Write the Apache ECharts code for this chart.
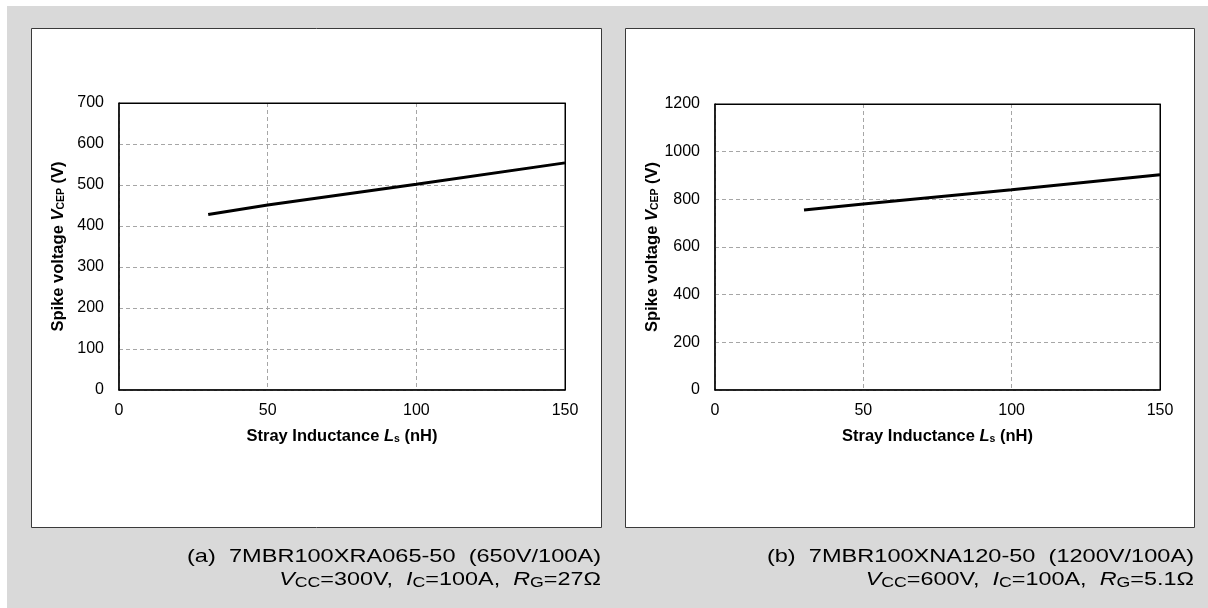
<!DOCTYPE html>
<html>
<head>
<meta charset="utf-8">
<script src="https://cdn.jsdelivr.net/npm/echarts@6/dist/echarts.min.js"></script>
<style>
html,body{margin:0;padding:0;background:#fff;}
#c{width:1208px;height:608px;}
</style>
</head>
<body>
<div id="c"></div>
<script>
// ---- data ----
const xTicksA = [0, 50, 100, 150];
const inductanceA = [30, 50, 100, 150];          // nH
const spikeA = [428, 451, 502, 554];              // V  (7MBR100XRA065-50)
const inductanceB = [30, 50, 100, 150];          // nH
const spikeB = [755, 780, 840, 903];              // V  (7MBR100XNA120-50)
const yMaxA = 700, yStepA = 100;
const yMaxB = 1200, yStepB = 200;
const xMax = 150, xStep = 50;
const captionA1 = '(a)  7MBR100XRA065-50  (650V/100A)';
const captionA2 = ['V', 'CC', '=300V,  ', 'I', 'C', '=100A,  ', 'R', 'G', '=27Ω'];
const captionB1 = '(b)  7MBR100XNA120-50  (1200V/100A)';
const captionB2 = ['V', 'CC', '=600V,  ', 'I', 'C', '=100A,  ', 'R', 'G', '=5.1Ω'];

const FONT = 'Arial, "Liberation Sans", sans-serif';

function pairs(xs, ys) { return xs.map((x, i) => [x, ys[i]]); }

function capRich(parts) {
  let s = '';
  for (let i = 0; i < parts.length; i += 3) {
    s += '{i|' + parts[i] + '}{s|' + parts[i + 1] + '}{n|' + parts[i + 2] + '}';
  }
  return s;
}

const capStyleRich = {
  n: { fontSize: 18.5, fontFamily: FONT, color: '#1a1a1a' },
  i: { fontSize: 18.5, fontFamily: FONT, fontStyle: 'italic', color: '#1a1a1a' },
  s: { fontSize: 14, fontFamily: FONT, color: '#1a1a1a', verticalAlign: 'bottom', padding: [6, 0, 0, 0] }
};

const nameRich = {
  b: { fontSize: 16.5, fontWeight: 'bold', fontFamily: FONT, color: '#000' },
  i: { fontSize: 16.5, fontWeight: 'bold', fontStyle: 'italic', fontFamily: FONT, color: '#000' },
  s: { fontSize: 10.5, fontWeight: 'bold', fontFamily: FONT, color: '#000', verticalAlign: 'bottom', padding: [6, 0, 0, 0] }
};

const gridLine = { show: true, lineStyle: { color: '#a6a6a6', type: [4, 3], width: 1 } };
const tickLabel = { fontSize: 16, fontFamily: FONT, color: '#000' };

function xAxisDef(idx) {
  return {
    gridIndex: idx, type: 'value', min: 0, max: xMax, interval: xStep,
    name: '{b|Stray Inductance }{i|L}{s|s}{b| (nH)}',
    nameLocation: 'middle', nameGap: 38,
    nameTextStyle: { rich: nameRich },
    axisLine: { show: true, onZero: false, lineStyle: { color: '#000', width: 1.5 } },
    axisTick: { show: false },
    axisLabel: Object.assign({ margin: 13 }, tickLabel),
    splitLine: gridLine
  };
}
function xAxisTop(idx) {
  return {
    gridIndex: idx, type: 'value', position: 'top', min: 0, max: xMax, interval: xStep,
    axisLine: { show: true, onZero: false, lineStyle: { color: '#000', width: 1 } },
    axisTick: { show: false }, axisLabel: { show: false }, splitLine: { show: false }
  };
}
function yAxisDef(idx, max, step) {
  return {
    gridIndex: idx, type: 'value', min: 0, max: max, interval: step,
    name: '{b|Spike voltage }{i|V}{s|CEP}{b| (V)}',
    nameLocation: 'middle', nameGap: 52,
    nameTextStyle: { rich: nameRich },
    axisLine: { show: true, onZero: false, lineStyle: { color: '#000', width: 1.5 } },
    axisTick: { show: false },
    axisLabel: Object.assign({ margin: 15, formatter: v => String(v) }, tickLabel),
    splitLine: gridLine
  };
}
function yAxisRight(idx, max, step) {
  return {
    gridIndex: idx, type: 'value', position: 'right', min: 0, max: max, interval: step,
    axisLine: { show: true, onZero: false, lineStyle: { color: '#000', width: 1 } },
    axisTick: { show: false }, axisLabel: { show: false }, splitLine: { show: false }
  };
}

const chart = echarts.init(document.getElementById('c'), null, { renderer: 'canvas' });
chart.setOption({
  animation: false,
  backgroundColor: '#ffffff',
  textStyle: { fontFamily: FONT },
  graphic: [
    { type: 'rect', z: -100, shape: { x: 7, y: 6, width: 1201, height: 602 }, style: { fill: '#d9d9d9' } },
    { type: 'rect', z: -90, shape: { x: 31.5, y: 28.5, width: 570, height: 499 }, style: { fill: '#fff', stroke: '#3a3a3a', lineWidth: 1 } },
    { type: 'rect', z: -90, shape: { x: 625.5, y: 28.5, width: 569, height: 499 }, style: { fill: '#fff', stroke: '#3a3a3a', lineWidth: 1 } },
    { type: 'text', z: 100, x: 601, y: 557, scaleX: 1.274,
      style: { text: '{n|' + captionA1 + '}', rich: capStyleRich, align: 'right', verticalAlign: 'middle' } },
    { type: 'text', z: 100, x: 601, y: 580, scaleX: 1.265,
      style: { text: capRich(captionA2), rich: capStyleRich, align: 'right', verticalAlign: 'middle' } },
    { type: 'text', z: 100, x: 1194, y: 557, scaleX: 1.274,
      style: { text: '{n|' + captionB1 + '}', rich: capStyleRich, align: 'right', verticalAlign: 'middle' } },
    { type: 'text', z: 100, x: 1194, y: 580, scaleX: 1.265,
      style: { text: capRich(captionB2), rich: capStyleRich, align: 'right', verticalAlign: 'middle' } }
  ],
  grid: [
    { left: 119, top: 103, width: 446, height: 287, show: true, backgroundColor: '#fff', borderColor: '#000', borderWidth: 1 },
    { left: 715, top: 104, width: 445, height: 286, show: true, backgroundColor: '#fff', borderColor: '#000', borderWidth: 1 }
  ],
  xAxis: [xAxisDef(0), xAxisDef(1), xAxisTop(0), xAxisTop(1)],
  yAxis: [yAxisDef(0, yMaxA, yStepA), yAxisDef(1, yMaxB, yStepB), yAxisRight(0, yMaxA, yStepA), yAxisRight(1, yMaxB, yStepB)],
  series: [
    { type: 'line', xAxisIndex: 0, yAxisIndex: 0, data: pairs(inductanceA, spikeA),
      showSymbol: false, symbol: 'none', lineStyle: { color: '#000', width: 3 }, z: 5 },
    { type: 'line', xAxisIndex: 1, yAxisIndex: 1, data: pairs(inductanceB, spikeB),
      showSymbol: false, symbol: 'none', lineStyle: { color: '#000', width: 3 }, z: 5 }
  ]
});
</script>
</body>
</html>
